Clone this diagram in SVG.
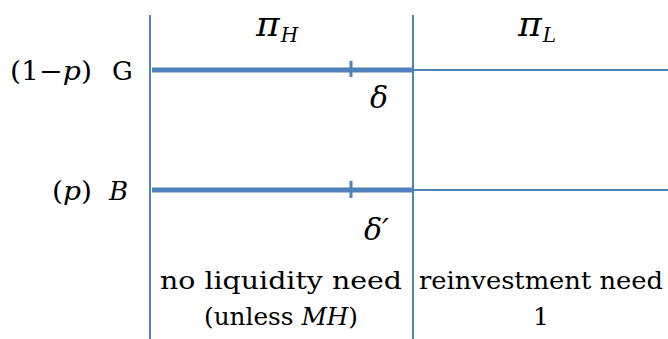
<svg xmlns="http://www.w3.org/2000/svg" width="668" height="339" viewBox="0 0 668 339">
<style>
.ln{stroke:#4f81bd;fill:none}
text{font-family:'DejaVu Serif','Liberation Serif','Times New Roman',serif;fill:#000}
.i{font-style:italic}
</style>
<rect width="668" height="339" fill="#fff"/>
<g id="connectors">
<line class="ln" x1="150" y1="15" x2="150" y2="339" stroke-width="2"/>
<line class="ln" x1="413" y1="15" x2="413" y2="339" stroke-width="2"/>
<line class="ln" x1="152" y1="70" x2="413" y2="70" stroke-width="5"/>
<line class="ln" x1="413" y1="70" x2="668" y2="70" stroke-width="2"/>
<line class="ln" x1="351" y1="61" x2="351" y2="77" stroke-width="3"/>
<line class="ln" x1="152" y1="190" x2="413" y2="190" stroke-width="5"/>
<line class="ln" x1="413" y1="190" x2="668" y2="190" stroke-width="2"/>
<line class="ln" x1="351" y1="181" x2="351" y2="198" stroke-width="3"/>
</g>
<g id="piH"><text class="i" x="256" y="36" font-size="36">π<tspan font-size="20" dy="6" dx="1">H</tspan></text></g>
<g id="piL"><text class="i" x="518" y="36" font-size="36">π<tspan font-size="20" dy="6" dx="1">L</tspan></text></g>
<g id="G"><text x="10" y="80" font-size="26" textLength="82" lengthAdjust="spacingAndGlyphs">(1−<tspan class="i">p</tspan>)</text><text x="112" y="80" font-size="26">G</text></g>
<g id="B"><text x="52" y="200" font-size="26" textLength="40" lengthAdjust="spacingAndGlyphs">(<tspan class="i">p</tspan>)</text><text class="i" x="109" y="200" font-size="26">B</text></g>
<g id="delta"><text class="i" x="370" y="108" font-size="30">δ</text></g>
<g id="deltap"><text class="i" x="364" y="240" font-size="30">δ′</text></g>
<g id="left"><text x="281" y="289" font-size="25" text-anchor="middle" textLength="242" lengthAdjust="spacingAndGlyphs">no liquidity need</text>
<text x="281" y="325" font-size="25" text-anchor="middle" textLength="154" lengthAdjust="spacingAndGlyphs">(unless <tspan class="i">MH</tspan>)</text></g>
<g id="right"><text x="541" y="289" font-size="25" text-anchor="middle" textLength="244" lengthAdjust="spacingAndGlyphs">reinvestment need</text>
<text x="541" y="325" font-size="25" text-anchor="middle">1</text></g>
</svg>
